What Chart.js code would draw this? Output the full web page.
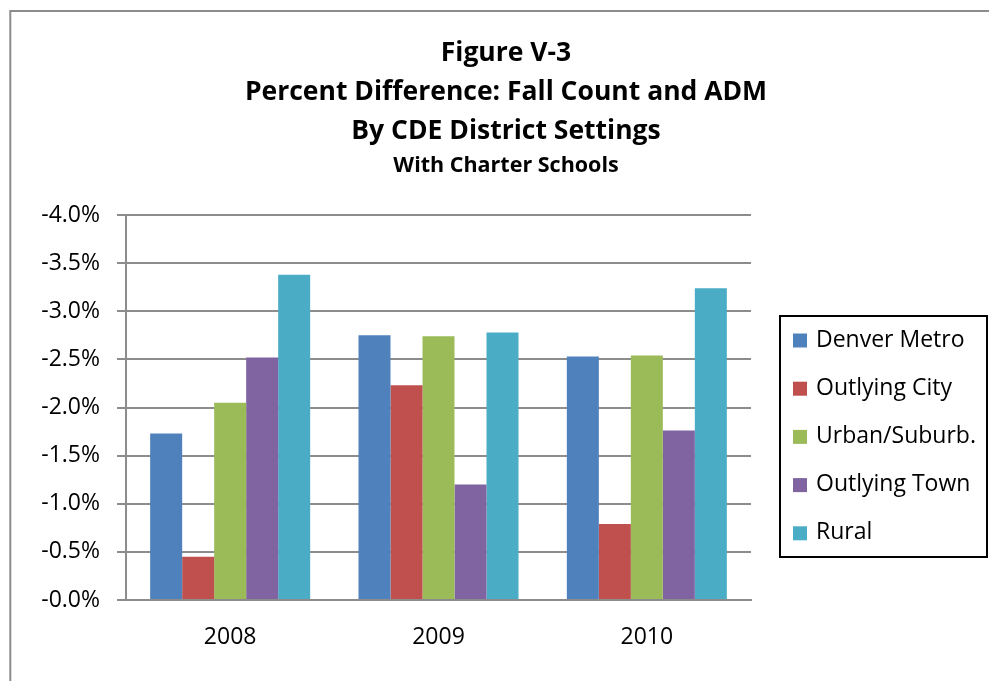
<!DOCTYPE html>
<html><head><meta charset="utf-8">
<script src="https://cdn.jsdelivr.net/npm/chart.js@4.4.1/dist/chart.umd.min.js"></script>
<style>html,body{margin:0;padding:0;background:#fff;overflow:hidden}</style>
</head><body>
<canvas id="c" width="989" height="681"></canvas>
<script>
// ---- data ----
const years = ['2008', '2009', '2010'];
const seriesNames = ['Denver Metro', 'Outlying City', 'Urban/Suburb.', 'Outlying Town', 'Rural'];
const denverMetro  = [-1.73, -2.75, -2.53];
const outlyingCity = [-0.45, -2.23, -0.79];
const urbanSuburb  = [-2.05, -2.74, -2.54];
const outlyingTown = [-2.52, -1.20, -1.76];
const rural        = [-3.38, -2.78, -3.24];
const yTickLabels = ['-4.0%', '-3.5%', '-3.0%', '-2.5%', '-2.0%', '-1.5%', '-1.0%', '-0.5%', '-0.0%'];
const titleLines = ['Figure V-3', 'Percent Difference: Fall Count and ADM', 'By CDE District Settings'];
const subtitleText = 'With Charter Schools';

const Y_MIN = -4, Y_MAX = 0, Y_STEP = 0.5;
const colors = ['#4F81BD', '#C0504D', '#9BBB59', '#8064A2', '#4BACC6'];
const FONT = '"Open Sans", "Noto Sans", sans-serif';
const seriesValues = [denverMetro, outlyingCity, urbanSuburb, outlyingTown, rural];

const frameAndLegend = {
  id: 'frameAndLegend',
  beforeDraw(chart) {
    const ctx = chart.ctx;
    ctx.save();
    ctx.fillStyle = '#fff';
    ctx.fillRect(0, 0, chart.width, chart.height);
    ctx.strokeStyle = '#8c8c8c';
    ctx.lineWidth = 2;
    ctx.beginPath();
    ctx.moveTo(10.3, chart.height);
    ctx.lineTo(10.3, 11);
    ctx.lineTo(chart.width, 11);
    ctx.stroke();
    ctx.restore();
  },
  afterDraw(chart) {
    const ctx = chart.ctx;
    ctx.save();
    const bx = 780, by = 316, bw = 207, bh = 241;
    ctx.strokeStyle = '#000';
    ctx.lineWidth = 2;
    ctx.strokeRect(bx, by, bw, bh);
    ctx.font = '23px ' + FONT;
    ctx.textBaseline = 'middle';
    ctx.textAlign = 'left';
    chart.data.datasets.forEach((ds, i) => {
      const cy = 340.5 + i * 48.2;
      ctx.fillStyle = ds.backgroundColor;
      ctx.fillRect(793, cy - 7, 14, 14);
      ctx.fillStyle = '#000';
      ctx.fillText(ds.label, 816, cy - 0.5);
    });
    ctx.restore();
  }
};

new Chart(document.getElementById('c'), {
  type: 'bar',
  data: {
    labels: years,
    datasets: seriesNames.map((name, i) => ({
      label: name,
      data: seriesValues[i],
      backgroundColor: colors[i],
      borderWidth: 0,
      categoryPercentage: 0.768,
      barPercentage: 1.0
    }))
  },
  options: {
    responsive: false,
    animation: false,
    devicePixelRatio: 1,
    layout: { padding: { left: 23, top: 0, right: 0, bottom: 0 } },
    plugins: {
      legend: { display: false },
      tooltip: { enabled: false },
      title: {
        display: true,
        text: titleLines,
        color: '#000',
        font: { family: FONT, size: 26.5, weight: 'bold', lineHeight: 39 / 26.5 },
        padding: { top: 33.5, bottom: 2.1 }
      },
      subtitle: {
        display: true,
        text: subtitleText,
        color: '#000',
        font: { family: FONT, size: 21.5, weight: 'bold', lineHeight: 1.2 },
        padding: { top: 0, bottom: 36.6 }
      }
    },
    scales: {
      x: {
        grid: { display: false, drawTicks: false },
        border: { display: true, color: '#8c8c8c', width: 2 },
        ticks: { color: '#000', font: { family: FONT, size: 23 }, padding: 24 },
        afterFit(s) { s.height = 81; }
      },
      y: {
        reverse: true,
        min: Y_MIN,
        max: Y_MAX,
        grid: { color: '#8c8c8c', lineWidth: 2, tickLength: 9, drawTicks: true },
        border: { display: true, color: '#8c8c8c', width: 2 },
        ticks: {
          stepSize: Y_STEP,
          color: '#000',
          font: { family: FONT, size: 23 },
          padding: 17,
          callback: (v) => yTickLabels[Math.round((v - Y_MIN) / Y_STEP)]
        },
        afterFit(s) { s.width = 103; }
      },
      legendSpace: {
        type: 'linear',
        position: 'right',
        display: true,
        grid: { display: false, drawTicks: false },
        border: { display: false },
        ticks: { display: false },
        afterFit(s) { s.width = 238; }
      }
    }
  },
  plugins: [frameAndLegend]
});
</script>
</body></html>
